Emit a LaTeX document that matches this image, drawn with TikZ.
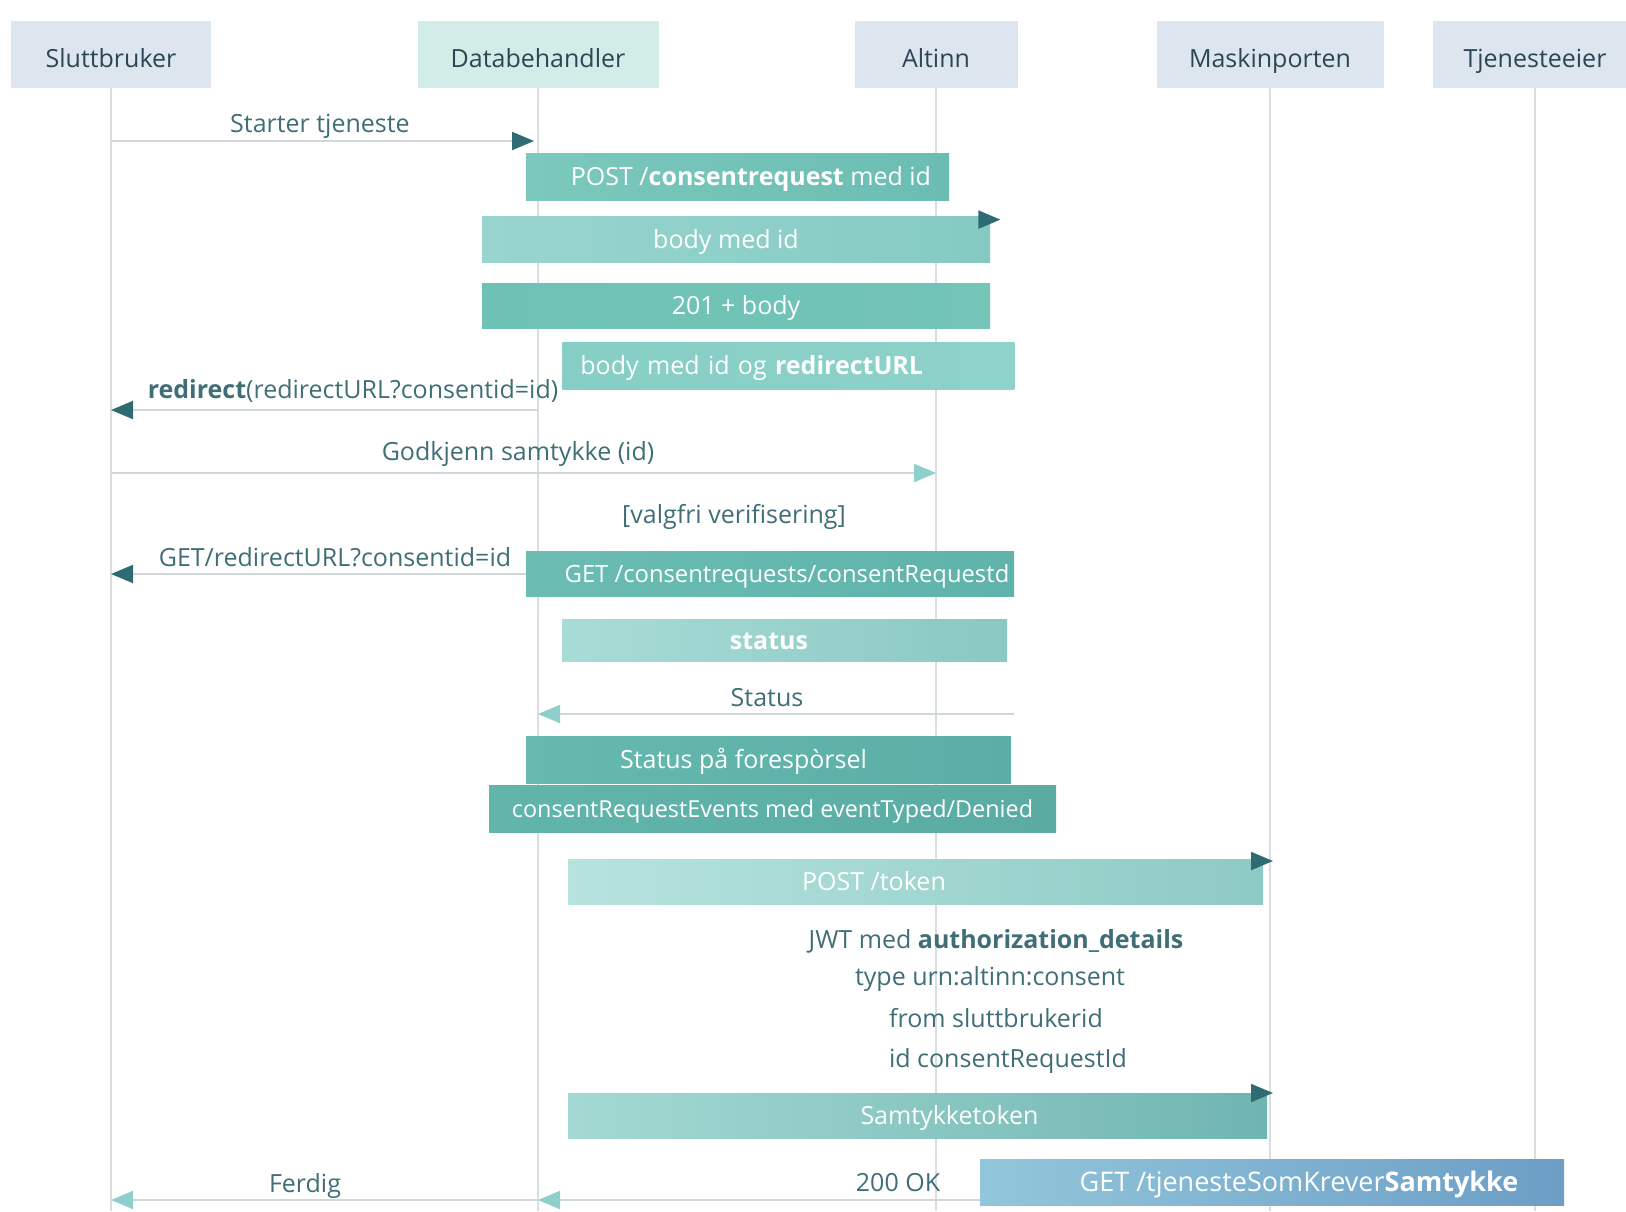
\documentclass[tikz,border=0pt]{standalone}
\usepackage{fontspec}
\setmainfont{Open Sans}
\usetikzlibrary{arrows.meta}
\definecolor{headblue}{HTML}{DDE5EE}
\definecolor{headmint}{HTML}{D2EDE8}
\definecolor{headtext}{HTML}{2D4654}
\definecolor{lbltext}{HTML}{3F6E77}
\definecolor{lifegray}{HTML}{D9DEE2}
\definecolor{linegray}{HTML}{D0D7DA}
\definecolor{arrowdark}{HTML}{2F6B72}
\definecolor{arrowlight}{HTML}{8ECFCB}
\tikzstyle{head} = [rectangle,minimum height=33.5pt,text height=12.5pt,text depth=0pt,text=headtext,font=\fontsize{12.5}{15}\selectfont]
\tikzstyle{msgbox} = [rectangle,text=white,inner xsep=0pt,inner ysep=2pt,text height=11.5pt,text depth=2.5pt,font=\fontsize{12.5}{15}\selectfont]

\begin{document}
\begin{tikzpicture}
		[
		x=0.5pt,y=-0.5pt,
		life/.style={draw=lifegray,line width=0.6pt},
		dmsg/.style={draw=linegray,line width=1pt,-{Triangle[length=11pt,width=9pt,color=arrowdark]}},
		lmsg/.style={draw=linegray,line width=1pt,-{Triangle[length=11pt,width=9pt,color=arrowlight]}},
		lbl/.style={text=lbltext,text height=11.5pt,text depth=2.5pt,font=\fontsize{12.5}{15}\selectfont}
		]
		\useasboundingbox (0,0) rectangle (1626,1211);
		\node[head,fill=headblue,minimum width=100pt] (sluttbruker) at (111,54.5) {Sluttbruker};
		\node[head,fill=headmint,minimum width=120.5pt] (databehandler) at (538,54.5) {Databehandler};
		\node[head,fill=headblue,minimum width=81.5pt] (altinn) at (936,54.5) {Altinn};
		\node[head,fill=headblue,minimum width=113.5pt] (maskinporten) at (1270,54.5) {Maskinporten};
		\node[head,fill=headblue,minimum width=102pt] (tjenesteeier) at (1535,54.5) {Tjenesteeier};
		\coordinate (bottom) at (0,1211);
		\foreach \who in {sluttbruker,databehandler,altinn,maskinporten,tjenesteeier}
			\draw[life] (\who.south) -- (\who |- bottom);

		\node[msgbox,left color={rgb,255:red,124;green,200;blue,189},right color={rgb,255:red,107;green,189;blue,179},minimum width=211.5pt,minimum height=23.5pt] (post_consent) at (737.5,176.5) {\hspace{13.5pt}POST /\textbf{consentrequest} med id};
		\node[msgbox,left color={rgb,255:red,153;green,213;blue,207},right color={rgb,255:red,132;green,202;blue,195},minimum width=254pt,minimum height=23pt] (body_id) at (736,239) {body med id\hspace{10pt}\null};
		\node[msgbox,left color={rgb,255:red,110;green,194;blue,181},right color={rgb,255:red,116;green,196;blue,184},minimum width=254pt,minimum height=22.5pt] (created) at (736,305.5) {201 + body};
		\node[msgbox,anchor=west,left color={rgb,255:red,134;green,206;blue,197},right color={rgb,255:red,143;green,210;blue,202},inner xsep=9pt,text width=208pt,align=left,minimum height=23.5pt] (body_redirect) at (562,365.5) {body med id og \textbf{redirectURL}};
		\node[msgbox,left color={rgb,255:red,107;green,189;blue,179},right color={rgb,255:red,95;green,179;blue,170},minimum width=244pt,minimum height=22.5pt,font=\fontsize{11.9}{14}\selectfont] (get_consent) at (770,573.5) {\hspace{17pt}GET /consentrequests/consentRequestd};
		\node[msgbox,left color={rgb,255:red,169;green,220;blue,215},right color={rgb,255:red,138;green,200;blue,194},minimum width=222.5pt,minimum height=21pt] (status_box) at (784.5,640) {\textbf{status}\hspace{15.5pt}\null};
		\node[msgbox,left color={rgb,255:red,102;green,185;blue,175},right color={rgb,255:red,90;green,174;blue,165},minimum width=242.5pt,minimum height=23.5pt] (status_req) at (768.5,759.5) {Status på forespòrsel\hspace{25pt}\null};
		\node[msgbox,left color={rgb,255:red,98;green,181;blue,171},right color={rgb,255:red,90;green,172;blue,163},minimum width=283.5pt,minimum height=23.5pt,font=\fontsize{11.7}{14}\selectfont] (events) at (772.5,808.5) {consentRequestEvents med eventTyped/Denied};
		\node[msgbox,left color={rgb,255:red,183;green,227;blue,223},right color={rgb,255:red,142;green,202;blue,196},minimum width=347.5pt,minimum height=22.5pt] (post_token) at (915.5,881.5) {POST /token\hspace{41.5pt}\null};
		\node[msgbox,left color={rgb,255:red,164;green,217;blue,211},right color={rgb,255:red,112;green,181;blue,178},minimum width=349.5pt,minimum height=22.5pt] (samtykketoken) at (917.5,1115.5) {\hspace{32pt}Samtykketoken};
		\node[msgbox,left color={rgb,255:red,146;green,198;blue,218},right color={rgb,255:red,108;green,158;blue,198},minimum width=292pt,minimum height=23pt,font=\fontsize{13.5}{16}\selectfont] (get_tjeneste) at (1272,1182) {\hspace{27pt}GET /tjenesteSomKrever\textbf{Samtykke}};

		\node[lbl] (starter) at (320,123) {Starter tjeneste};
		\node[lbl] (redirect) at (353,389) {\textbf{redirect}(redirectURL?consentid=id)};
		\node[lbl] (godkjenn) at (518,451) {Godkjenn samtykke (id)};
		\node[lbl] (valgfri) at (734,514) {[valgfri verifisering]};
		\node[lbl] (get_redirect) at (335,557) {GET/redirectURL?consentid=id};
		\node[lbl] (status_lbl) at (767,697) {Status};
		\node[lbl] (jwt) at (996,939) {JWT med \textbf{authorization\_details}};
		\node[lbl] (jwt_type) at (990,976) {type urn:altinn:consent};
		\node[lbl] (jwt_from) at (996,1018) {from sluttbrukerid};
		\node[lbl] (jwt_id) at (1008,1058) {id consentRequestId};
		\node[lbl] (ferdig) at (305,1183) {Ferdig};
		\node[lbl] (ok) at (898,1182) {200 OK};

		\coordinate (status_start) at (1014,714);
		\draw[dmsg] (sluttbruker |- 0,141) -- ([xshift=-2pt]databehandler |- 0,141);
		\draw[dmsg] ([yshift=-2pt]body_id.north east) -- ++(10,0);
		\draw[dmsg] (databehandler |- 0,410) -- (sluttbruker |- 0,410);
		\draw[lmsg] (sluttbruker |- 0,473) -- (altinn |- 0,473);
		\draw[dmsg] (get_consent.west |- 0,574) -- (sluttbruker |- 0,574);
		\draw[lmsg] (status_start) -- (databehandler |- status_start);
		\draw[dmsg] (post_token.east |- 0,861) -- ([xshift=1.5pt]maskinporten |- 0,861);
		\draw[dmsg] (samtykketoken.east |- 0,1093) -- ([xshift=1.5pt]maskinporten |- 0,1093);
		\draw[lmsg] (databehandler |- 0,1200) -- (sluttbruker |- 0,1200);
		\draw[lmsg] (get_tjeneste.west |- 0,1200) -- (databehandler |- 0,1200);
		\end{tikzpicture}
\end{document}
